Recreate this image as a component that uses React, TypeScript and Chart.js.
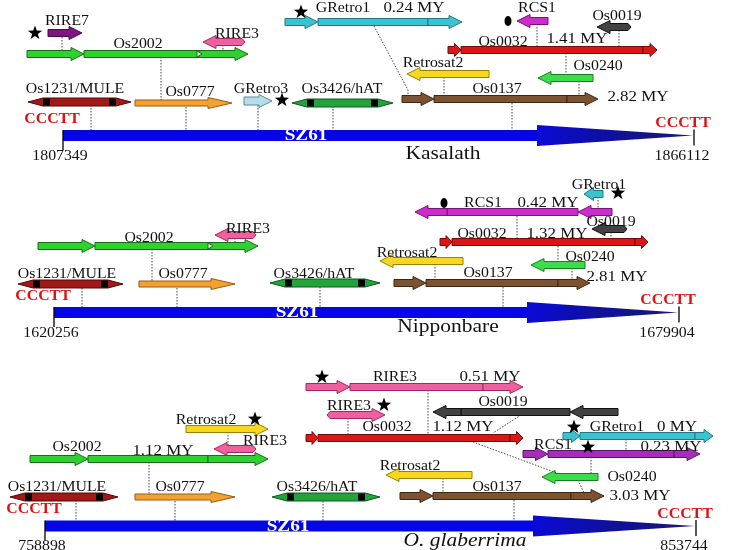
import React, { useEffect, useRef } from 'react';
import { Chart, registerables } from 'chart.js';

Chart.register(...registerables);

// ---------- data (diagram units along x: scaled genomic position, y: track) ----------
const genomes = ['Kasalath', 'Nipponbare', 'O. glaberrima'];
const coordStart = ['1807349', '1620256', '758898'];
const coordEnd = ['1866112', '1679904', '853744'];

// SZ61 backbone per genome
const backboneStart = [63, 54, 45];
const backboneHead = [537, 527, 533];
const backboneEnd = [693, 678, 695];
const backboneTrack = [135.5, 312.5, 526];

// solo / fragment arrows: family, from, to, track, strand
const soloArrows: [string, number, number, number, number][] = [
  ['RIRE7', 48, 82, 33, 1],
  ['RIRE3', 203, 242, 42, -1],
  ['Os0777', 135, 232, 103, 1],
  ['GRetro3', 244, 272, 101, 1],
  ['RCS1', 517, 548, 21, -1],
  ['Os0019', 597, 628, 27, -1],
  ['Os0240', 538, 593, 78, -1],
  ['Retrosat2', 407, 489, 74, -1],
  ['RIRE3', 215, 253, 235, -1],
  ['Os0777', 139, 235, 284, 1],
  ['GRetro1', 584, 603, 194, -1],
  ['Os0019', 592, 624, 229, -1],
  ['Os0240', 531, 585, 265, -1],
  ['Retrosat2', 380, 463, 261, -1],
  ['Retrosat2', 186, 268, 429, 1],
  ['RIRE3', 214, 253, 449, -1],
  ['Os0777', 135, 235, 497, 1],
  ['RIRE3', 330, 385, 415, 1],
  ['Os0240', 542, 598, 477, -1],
  ['Retrosat2', 386, 472, 475, -1],
];

// LTR retrotransposons: family, from, to, left LTR boundary, right LTR boundary, track, strand
const ltrElements: [string, number, number, number, number, number, number][] = [
  ['Os2002', 27, 248, 84, 199, 54, 1],
  ['GRetro1', 285, 462, 318, 428, 22, 1],
  ['Os0032', 448, 657, 461, 643, 50, 1],
  ['Os0137', 402, 598, 434, 567, 99, 1],
  ['Os2002', 38, 258, 95, 210, 246, 1],
  ['RCS1', 415, 612, 447, 578, 212, -1],
  ['Os0032', 440, 648, 452, 635, 242, 1],
  ['Os0137', 394, 590, 426, 558, 283, 1],
  ['Os2002', 30, 268, 88, 208, 459, 1],
  ['RIRE3', 306, 523, 350, 483, 387, 1],
  ['Os0019', 433, 618, 461, 570, 412, -1],
  ['Os0032', 306, 523, 318, 510, 438, 1],
  ['GRetro1', 563, 713, 580, 695, 436, 1],
  ['RCS1g', 523, 700, 548, 674, 454, 1],
  ['Os0137', 400, 604, 433, 571, 496, 1],
];

// DNA transposons: family, from, to, track
const dnaElements: [string, number, number, number][] = [
  ['Os1231/MULE', 28, 131, 102],
  ['Os3426/hAT', 292, 393, 103],
  ['Os1231/MULE', 18, 123, 284],
  ['Os3426/hAT', 270, 380, 283],
  ['Os1231/MULE', 10, 118, 497],
  ['Os3426/hAT', 272, 380, 497],
];

// markers
const starMarks: [number, number][] = [
  [35, 33], [282, 100], [301, 12], [618, 193], [255, 419], [322, 377], [384, 405], [574, 427], [588, 447],
];
const dotMarks: [number, number][] = [[508, 21], [444, 203]];
const pbsMarks: [number, number][] = [[199, 54], [210, 246]];

// dotted nesting connectors: polyline x,y pairs
const connectors: number[][] = [
  [62, 37, 62, 51], [223, 45, 223, 51], [161, 57, 161, 100], [91, 105, 91, 130], [186, 107, 186, 130],
  [258, 105, 258, 130], [333, 106, 333, 130], [374, 26, 408, 90, 408, 96], [537, 24, 537, 47],
  [619, 30, 619, 47], [566, 53, 566, 75], [579, 81, 579, 96], [444, 77, 444, 96], [512, 103, 512, 130],
  [235, 238, 235, 243], [152, 249, 152, 281], [82, 288, 82, 307], [177, 288, 177, 307], [320, 287, 320, 307],
  [598, 197, 598, 209], [517, 216, 517, 239], [611, 232, 611, 239], [558, 246, 558, 262], [572, 268, 572, 280],
  [435, 264, 435, 280], [503, 287, 503, 307],
  [228, 432, 228, 446], [235, 452, 235, 456], [149, 462, 149, 494], [76, 500, 76, 521], [175, 501, 175, 521],
  [323, 501, 323, 521], [428, 390, 428, 434], [348, 418, 348, 434], [521, 415, 493, 433], [473, 442, 565, 476],
  [626, 439, 626, 451], [591, 457, 591, 474], [578, 480, 584, 493], [443, 478, 443, 493], [514, 500, 514, 521],
];

// text annotations: text, x, y, kind
const labels: [string, number, number, string][] = [
  ['RIRE7', 67, 21, 'n'], ['Os2002', 138, 44, 'n'], ['RIRE3', 237, 34, 'n'], ['Os1231/MULE', 75, 89, 'n'],
  ['Os0777', 190, 92, 'n'], ['GRetro3', 261, 89, 'n'], ['Os3426/hAT', 342, 89, 'n'], ['GRetro1', 343, 8, 'n'],
  ['0.24 MY', 414, 8, 'a'], ['RCS1', 537, 8, 'n'], ['Os0019', 617, 16, 'n'], ['Os0032', 503, 42, 'n'],
  ['1.41 MY', 577, 39, 'a'], ['Retrosat2', 433, 63, 'n'], ['Os0240', 598, 66, 'n'], ['Os0137', 497, 89, 'n'],
  ['2.82 MY', 638, 97, 'a'],
  ['Os2002', 149, 238, 'n'], ['RIRE3', 248, 229, 'n'], ['Os1231/MULE', 67, 274, 'n'], ['Os0777', 183, 274, 'n'],
  ['Os3426/hAT', 314, 274, 'n'], ['GRetro1', 599, 185, 'n'], ['RCS1', 483, 203, 'n'], ['0.42 MY', 548, 203, 'a'],
  ['Os0019', 611, 222, 'n'], ['Os0032', 482, 234, 'n'], ['1.32 MY', 557, 234, 'a'], ['Os0240', 590, 257, 'n'],
  ['Retrosat2', 407, 253, 'n'], ['Os0137', 488, 273, 'n'], ['2.81 MY', 617, 277, 'a'],
  ['Os2002', 77, 447, 'n'], ['1.12 MY', 163, 451, 'a'], ['Retrosat2', 206, 420, 'n'], ['RIRE3', 265, 441, 'n'],
  ['Os1231/MULE', 57, 487, 'n'], ['Os0777', 180, 487, 'n'], ['Os3426/hAT', 317, 487, 'n'], ['RIRE3', 395, 377, 'n'],
  ['0.51 MY', 490, 377, 'a'], ['RIRE3', 349, 406, 'n'], ['Os0019', 503, 402, 'n'], ['Os0032', 387, 427, 'n'],
  ['1.12 MY', 463, 427, 'a'], ['GRetro1', 617, 427, 'n'], ['0 MY', 677, 427, 'a'], ['RCS1', 553, 445, 'n'],
  ['0.23 MY', 671, 447, 'a'], ['Os0240', 632, 477, 'n'], ['Retrosat2', 410, 466, 'n'], ['Os0137', 497, 487, 'n'],
  ['3.03 MY', 640, 496, 'a'],
];

// ---------- styles ----------
const palette: Record<string, [string, string]> = {
  RIRE7: ['#7d167f', '#450a47'],
  RIRE3: ['#f0609e', '#9c2a60'],
  Os2002: ['#2fd02f', '#157015'],
  Os0777: ['#f2a232', '#9a5a10'],
  GRetro3: ['#b8dde9', '#5a8a98'],
  GRetro1: ['#3cc3cf', '#1a7a85'],
  RCS1: ['#cc2ccc', '#7a107a'],
  RCS1g: ['#a52eb8', '#5e1270'],
  Os0019: ['#424242', '#111111'],
  Os0032: ['#d81818', '#7a0a0a'],
  Os0240: ['#3ddc4a', '#168020'],
  Retrosat2: ['#f7d820', '#9a8000'],
  Os0137: ['#7b5232', '#3d2814'],
  'Os1231/MULE': ['#a01818', '#500808'],
  'Os3426/hAT': ['#22a33c', '#0e5a1c'],
};
const headLenOf: Record<string, number> = { Os0777: 24 };
const notched: Record<string, boolean> = { RIRE3: true, Os0019: true };
const FONT = '"Liberation Serif", "Times New Roman", serif';
const STRETCH = 1.13;

function arrowPath(ctx: CanvasRenderingContext2D, tail: number, tip: number, yc: number, bodyH: number, headH: number, headLen: number, notch = 0) {
  const d = tip >= tail ? 1 : -1;
  const len = Math.abs(tip - tail);
  const hl = Math.min(headLen, len * 0.5);
  const xb = tip - d * hl;
  ctx.beginPath();
  ctx.moveTo(tail, yc - bodyH / 2);
  ctx.lineTo(xb, yc - bodyH / 2);
  ctx.lineTo(xb, yc - headH / 2);
  ctx.lineTo(tip, yc);
  ctx.lineTo(xb, yc + headH / 2);
  ctx.lineTo(xb, yc + bodyH / 2);
  ctx.lineTo(tail, yc + bodyH / 2);
  if (notch > 0) ctx.lineTo(tail - d * notch, yc);
  ctx.closePath();
}

function paint(ctx: CanvasRenderingContext2D, fill: string, stroke: string) {
  ctx.fillStyle = fill;
  ctx.fill();
  ctx.strokeStyle = stroke;
  ctx.lineWidth = 1;
  ctx.stroke();
}

function drawText(ctx: CanvasRenderingContext2D, t: string, x: number, y: number, font: string, color: string) {
  ctx.save();
  ctx.translate(x, y);
  ctx.scale(STRETCH, 1);
  ctx.font = font;
  ctx.fillStyle = color;
  ctx.textAlign = 'center';
  ctx.textBaseline = 'middle';
  ctx.fillText(t, 0, 0);
  ctx.restore();
}

const diagramPlugin = {
  id: 'ltrDiagram',
  beforeDatasetsDraw(chart: any) {
    const ctx: CanvasRenderingContext2D = chart.ctx;
    const X = (v: number) => chart.scales.x.getPixelForValue(v);
    const Y = (v: number) => chart.scales.y.getPixelForValue(v);
    ctx.save();
    for (let i = 0; i < genomes.length; i++) {
      const x0 = X(backboneStart[i]);
      const xh = X(backboneHead[i]);
      const x1 = X(backboneEnd[i]);
      const yc = Y(backboneTrack[i]);
      ctx.fillStyle = '#0505e6';
      ctx.fillRect(x0, yc - 5.5, xh - x0, 11);
      const g = ctx.createLinearGradient(xh, 0, x1, 0);
      g.addColorStop(0, '#0a0ad8');
      g.addColorStop(0.5, '#10109a');
      g.addColorStop(1, '#1a1a70');
      ctx.beginPath();
      ctx.moveTo(xh, yc - 10.5);
      ctx.lineTo(x1, yc);
      ctx.lineTo(xh, yc + 10.5);
      ctx.closePath();
      ctx.fillStyle = g;
      ctx.fill();
      ctx.strokeStyle = '#000';
      ctx.lineWidth = 1.3;
      ctx.beginPath();
      ctx.moveTo(x0, yc - 5.5);
      ctx.lineTo(x0, yc + 14.5);
      ctx.moveTo(x1 + 1, yc - 6);
      ctx.lineTo(x1 + 1, yc + 10);
      ctx.stroke();
    }
    ctx.restore();
  },
  afterDatasetsDraw(chart: any) {
    const ctx: CanvasRenderingContext2D = chart.ctx;
    const X = (v: number) => chart.scales.x.getPixelForValue(v);
    const Y = (v: number) => chart.scales.y.getPixelForValue(v);
    ctx.save();
    ctx.lineJoin = 'miter';

    // DNA transposons
    for (const [fam, a, b, t] of dnaElements) {
      const [fill, stroke] = palette[fam];
      const x0 = X(a), x1 = X(b), yc = Y(t);
      const tipL = 15;
      ctx.beginPath();
      ctx.moveTo(x0, yc);
      ctx.lineTo(x0 + tipL, yc - 4);
      ctx.lineTo(x1 - tipL, yc - 4);
      ctx.lineTo(x1, yc);
      ctx.lineTo(x1 - tipL, yc + 4);
      ctx.lineTo(x0 + tipL, yc + 4);
      ctx.closePath();
      paint(ctx, fill, stroke);
      ctx.fillStyle = '#000';
      ctx.fillRect(x0 + tipL, yc - 3.5, 7, 7);
      ctx.fillRect(x1 - tipL - 7, yc - 3.5, 7, 7);
    }

    // solo arrows
    for (const [fam, a, b, t, s] of soloArrows) {
      const [fill, stroke] = palette[fam];
      const tail = s > 0 ? X(a) : X(b);
      const tip = s > 0 ? X(b) : X(a);
      const hl = headLenOf[fam] ?? 13;
      const isLong = fam === 'Os0777';
      const bodyH = isLong ? 6 : fam === 'GRetro3' ? 8 : 7;
      arrowPath(ctx, tail, tip, Y(t), bodyH, isLong ? 11 : 13, hl, notched[fam] ? 3 : 0);
      paint(ctx, fill, stroke);
    }

    // LTR retrotransposons
    for (const [fam, a, b, l1, l2, t, s] of ltrElements) {
      const [fill, stroke] = palette[fam];
      const yc = Y(t);
      const bh = 7, hh = 13;
      ctx.beginPath();
      ctx.rect(X(l1), yc - bh / 2, X(l2) - X(l1), bh);
      paint(ctx, fill, stroke);
      if (s > 0) {
        arrowPath(ctx, X(a), X(l1), yc, bh, hh, 13);
        paint(ctx, fill, stroke);
        arrowPath(ctx, X(l2), X(b), yc, bh, hh, 13);
        paint(ctx, fill, stroke);
      } else {
        arrowPath(ctx, X(l1), X(a), yc, bh, hh, 13);
        paint(ctx, fill, stroke);
        arrowPath(ctx, X(b), X(l2), yc, bh, hh, 13);
        paint(ctx, fill, stroke);
      }
    }

    // PBS-like white marks
    for (const [x, y] of pbsMarks) {
      const px = X(x), py = Y(y);
      ctx.beginPath();
      ctx.moveTo(px - 2, py - 3);
      ctx.lineTo(px + 3, py);
      ctx.lineTo(px - 2, py + 3);
      ctx.closePath();
      paint(ctx, '#ffffff', '#157015');
    }

    // stars
    for (const [x, y] of starMarks) {
      const cx = X(x), cy = Y(y);
      ctx.beginPath();
      for (let i = 0; i < 10; i++) {
        const r = i % 2 ? 3 : 7.5;
        const ang = -Math.PI / 2 + (i * Math.PI) / 5;
        ctx.lineTo(cx + r * Math.cos(ang), cy + r * Math.sin(ang));
      }
      ctx.closePath();
      ctx.fillStyle = '#000';
      ctx.fill();
    }
    // dots
    for (const [x, y] of dotMarks) {
      ctx.beginPath();
      ctx.ellipse(X(x), Y(y), 3.5, 5, 0, 0, Math.PI * 2);
      ctx.fillStyle = '#000';
      ctx.fill();
    }

    // labels
    for (const [t, x, y, k] of labels) {
      const font = k === 'a' ? `15px ${FONT}` : `14px ${FONT}`;
      drawText(ctx, t, X(x), Y(y), font, '#111');
    }
    // backbone annotations
    const nameX = [443, 448, 465];
    for (let i = 0; i < genomes.length; i++) {
      const yc = Y(backboneTrack[i]);
      const x0 = X(backboneStart[i]);
      const x1 = X(backboneEnd[i]);
      drawText(ctx, 'SZ61', X(backboneStart[i] + 243), yc + 0.5, `bold 17px ${FONT}`, '#ffffff');
      drawText(ctx, 'CCCTT', x0 - 11, yc - 16.5, `bold 14px ${FONT}`, '#e01010');
      drawText(ctx, 'CCCTT', x1 - 10, yc - 12, `bold 14px ${FONT}`, '#e01010');
      drawText(ctx, coordStart[i], x0 - 3, yc + 20.5, `14px ${FONT}`, '#111');
      drawText(ctx, coordEnd[i], x1 - 11, yc + 20.5, `14px ${FONT}`, '#111');
      const italic = genomes[i].startsWith('O.') ? 'italic ' : '';
      drawText(ctx, genomes[i], X(nameX[i]), yc + (i === 0 ? 18.5 : 14.5), `${italic}19px ${FONT}`, '#111');
    }
    ctx.restore();
  },
};

export default function App() {
  const ref = useRef<HTMLCanvasElement>(null);
  useEffect(() => {
    document.body.style.margin = '0';
    const canvas = ref.current!;
    const connectorData: any[] = [];
    for (const c of connectors) {
      for (let i = 0; i < c.length; i += 2) connectorData.push({ x: c[i], y: c[i + 1] });
      connectorData.push({ x: c[c.length - 2], y: null });
    }
    const chart = new Chart(canvas, {
      type: 'scatter',
      data: {
        datasets: [
          {
            data: connectorData,
            showLine: true,
            spanGaps: false,
            borderColor: '#444',
            borderWidth: 1,
            borderDash: [1.5, 1.5],
            pointRadius: 0,
            fill: false,
          } as any,
        ],
      },
      options: {
        animation: false,
        responsive: false,
        maintainAspectRatio: false,
        events: [],
        layout: { padding: 0 },
        plugins: { legend: { display: false }, tooltip: { enabled: false } },
        scales: {
          x: { type: 'linear', min: 0, max: 730, display: false },
          y: { type: 'linear', min: 0, max: 550, reverse: true, display: false },
        },
      },
      plugins: [diagramPlugin],
    });
    return () => chart.destroy();
  }, []);
  return <canvas ref={ref} width={730} height={550} style={{ display: 'block', width: 730, height: 550 }} />;
}
